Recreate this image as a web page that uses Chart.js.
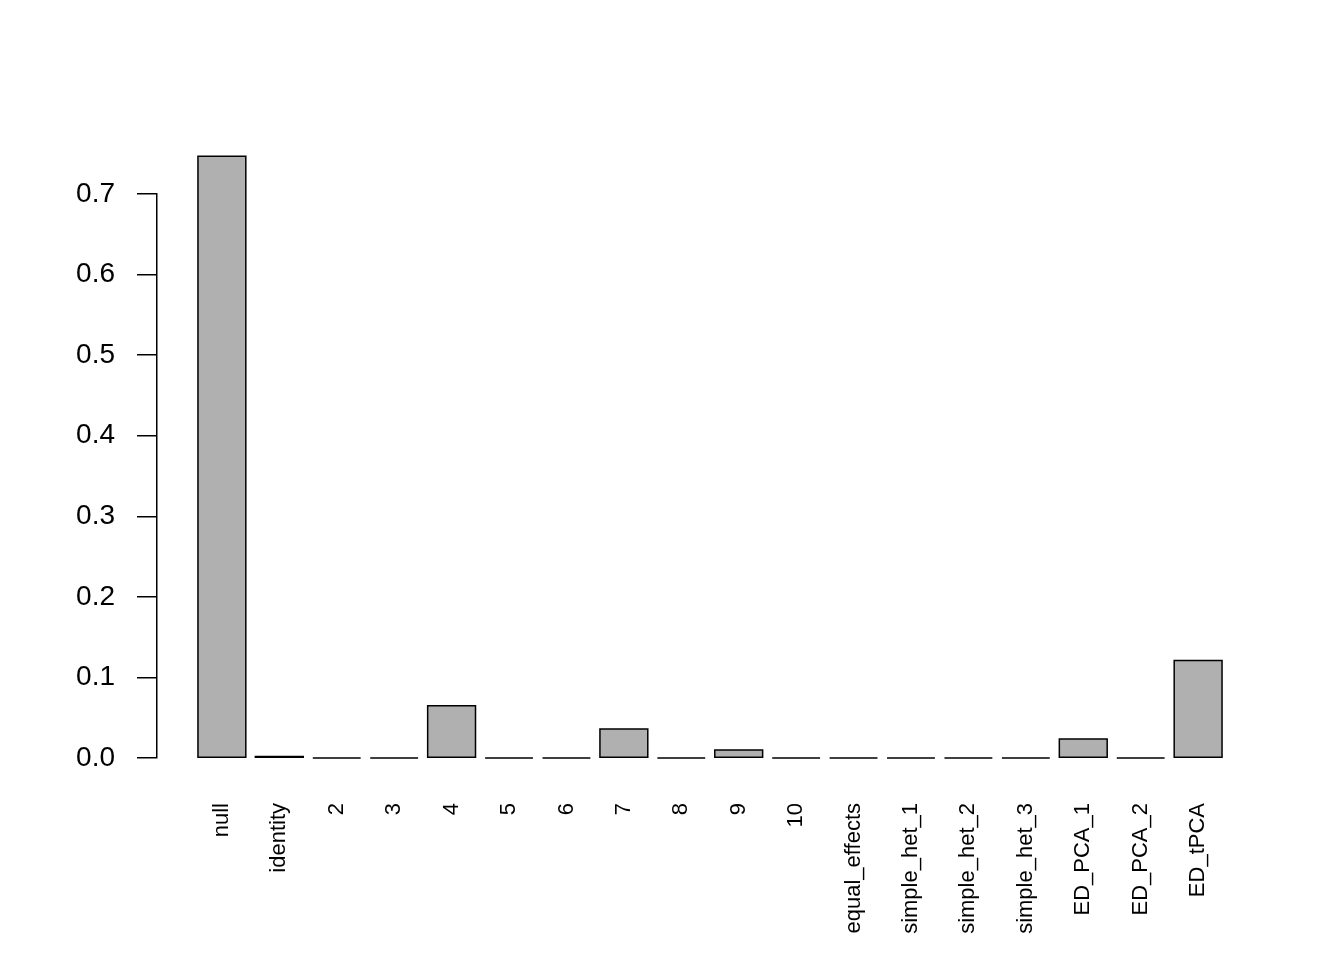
<!DOCTYPE html>
<html>
<head>
<meta charset="utf-8">
<script src="https://cdn.jsdelivr.net/npm/chart.js@4"></script>
<style>
  body { margin: 0; background: #fff; }
  canvas { display: block; }
</style>
</head>
<body>
<canvas id="barChart" width="1344" height="960"></canvas>
<script>
// data
const categories = ['null', 'identity', '2', '3', '4', '5', '6', '7', '8', '9', '10',
    'equal_effects', 'simple_het_1', 'simple_het_2', 'simple_het_3',
    'ED_PCA_1', 'ED_PCA_2', 'ED_tPCA'];
const weights = [0.747, 0.002, 0, 0, 0.065, 0, 0, 0.036, 0, 0.010, 0,
    0, 0, 0, 0, 0.0236, 0, 0.121];
const yTicks = [0, 0.1, 0.2, 0.3, 0.4, 0.5, 0.6, 0.7];

const FONT = "'Liberation Sans', Arial, Helvetica, sans-serif";

// R style outlines: every bar gets a full black rectangle, even zero height ones
const barOutline = {
    id: 'barOutline',
    afterDatasetsDraw(chart) {
        const ctx = chart.ctx;
        const meta = chart.getDatasetMeta(0);
        ctx.save();
        ctx.strokeStyle = '#000';
        ctx.lineWidth = 1.5;
        meta.data.forEach(bar => {
            const p = bar.getProps(['x', 'y', 'base', 'width'], true);
            ctx.beginPath();
            ctx.rect(p.x - p.width / 2, p.y, p.width, p.base - p.y);
            ctx.stroke();
        });
        ctx.restore();
    }
};

const ctx = document.getElementById('barChart').getContext('2d');
new Chart(ctx, {
    type: 'bar',
    data: {
        datasets: [{
            data: weights.map((v, i) => ({ x: i, y: v })),
            backgroundColor: '#b0b0b0',
            borderWidth: 0,
            barPercentage: 0.8333,
            categoryPercentage: 1,
            clip: false
        }]
    },
    plugins: [barOutline],
    options: {
        responsive: false,
        animation: false,
        layout: { padding: { top: 194, right: 81, left: 0, bottom: 0 } },
        plugins: {
            legend: { display: false },
            tooltip: { enabled: false }
        },
        scales: {
            x: {
                type: 'linear',
                offset: false,
                min: -1.13,
                max: categories.length - 1 + 1.13,
                afterBuildTicks(scale) {
                    scale.ticks = categories.map((c, i) => ({ value: i }));
                },
                afterFit(scale) {
                    scale.height = 202;
                    scale.paddingLeft = 0;
                    scale.paddingRight = 0;
                },
                grid: { display: false, drawTicks: false },
                border: { display: false },
                ticks: {
                    autoSkip: false,
                    minRotation: 90,
                    maxRotation: 90,
                    padding: 45,
                    color: '#000',
                    font: { family: FONT, size: 22 },
                    callback: (v) => categories[v] !== undefined ? categories[v] : ''
                }
            },
            y: {
                min: 0,
                max: 0.7,
                afterBuildTicks(scale) {
                    scale.ticks = yTicks.map(v => ({ value: v }));
                },
                afterFit(scale) {
                    scale.width = 157;
                    scale.paddingTop = 0;
                    scale.paddingBottom = 0;
                },
                grid: {
                    drawOnChartArea: false,
                    drawTicks: true,
                    tickLength: 20,
                    color: '#000',
                    lineWidth: 1.5
                },
                border: { display: true, color: '#000', width: 1.5 },
                ticks: {
                    padding: 22,
                    color: '#000',
                    font: { family: FONT, size: 28 },
                    callback: (v) => Number(v).toFixed(1)
                }
            }
        }
    }
});
</script>
</body>
</html>
